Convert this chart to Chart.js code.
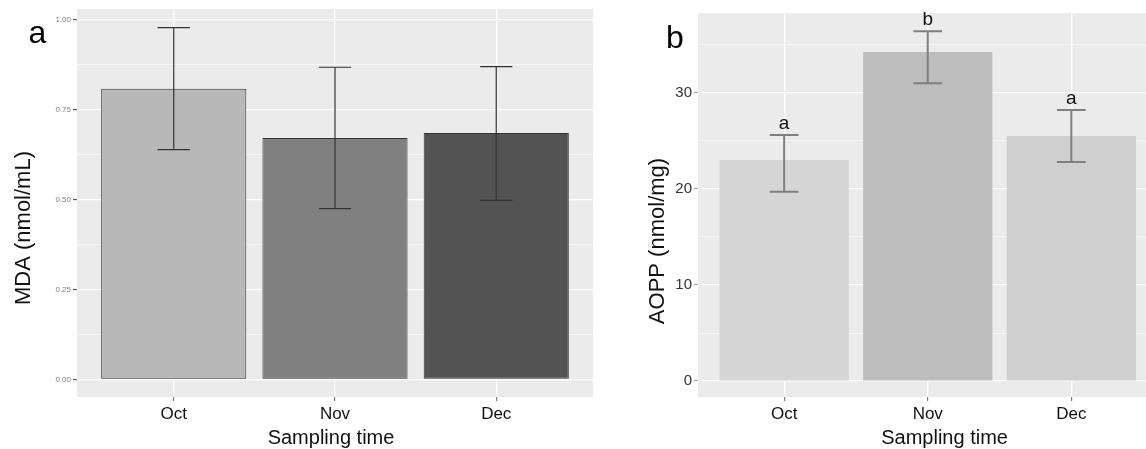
<!DOCTYPE html>
<html>
<head>
<meta charset="utf-8">
<script src="https://cdn.jsdelivr.net/npm/chart.js@4.4.1/dist/chart.umd.min.js"></script>
<style>
  html, body { margin: 0; padding: 0; background: #fff; width: 1146px; height: 449px; overflow: hidden; }
  #wrapA { position: absolute; left: 0; top: 0; width: 600px; height: 449px; }
  #wrapB { position: absolute; left: 600px; top: 0; width: 546px; height: 449px; }
</style>
</head>
<body>
<div id="wrapA"><canvas id="mdaChart"></canvas></div>
<div id="wrapB"><canvas id="aoppChart"></canvas></div>
<script>
// categories
const months = ['Oct', 'Nov', 'Dec'];

// panel a: MDA (nmol/mL), mean and error bar ends
const mdaMean = [0.808, 0.671, 0.685];
const mdaLow = [0.639, 0.475, 0.498];
const mdaHigh = [0.978, 0.868, 0.870];
const mdaTicks = [0, 0.25, 0.5, 0.75, 1.0];

// panel b: AOPP (nmol/mg)
const aoppMean = [23.0, 34.25, 25.5];
const aoppLow = [19.7, 31.0, 22.8];
const aoppHigh = [25.6, 36.4, 28.2];
const aoppLetters = ['a', 'b', 'a'];
const aoppTicks = [0, 10, 20, 30];

const FONT = "'Liberation Sans', Arial, sans-serif";

// major ticks + minor halfway lines (ggplot style grid)
function withMinors(majors, upTo) {
    const step = majors[1] - majors[0];
    const out = [];
    for (let v = majors[0]; v <= upTo + 1e-9; v += step / 2) out.push(+v.toFixed(6));
    return out;
}

function makeChart(id, opt) {
    const isMajor = v => opt.yTicks.some(t => Math.abs(t - v) < 1e-6);

    // grey panel background
    const panelBg = {
        id: 'panelBg',
        beforeDraw(chart) {
            const a = chart.chartArea, c = chart.ctx;
            c.save();
            c.fillStyle = '#EBEBEB';
            c.fillRect(a.left, a.top, a.right - a.left, a.bottom - a.top);
            c.restore();
        }
    };

    // error bars and letters above them
    const errorBars = {
        id: 'errorBars',
        afterDatasetsDraw(chart) {
            const c = chart.ctx, x = chart.scales.x, y = chart.scales.y;
            c.save();
            c.strokeStyle = opt.errColor;
            c.lineWidth = opt.errWidth;
            opt.mean.forEach((m, i) => {
                const cx = x.getPixelForValue(i + 1);
                const half = x.getPixelForValue(i + 1.1) - cx;
                const yl = y.getPixelForValue(opt.low[i]);
                const yh = y.getPixelForValue(opt.high[i]);
                c.beginPath();
                c.moveTo(cx, yl); c.lineTo(cx, yh);
                c.moveTo(cx - half, yl); c.lineTo(cx + half, yl);
                c.moveTo(cx - half, yh); c.lineTo(cx + half, yh);
                c.stroke();
                if (opt.letters) {
                    c.fillStyle = '#111';
                    c.font = '19px ' + FONT;
                    c.textAlign = 'center';
                    c.textBaseline = 'alphabetic';
                    c.fillText(opt.letters[i], cx, yh - 6);
                }
            });
            c.restore();
        }
    };

    // panel letter and axis titles
    const labels = {
        id: 'labels',
        afterDraw(chart) {
            const c = chart.ctx;
            c.save();
            c.fillStyle = '#000';
            c.textAlign = 'center';
            c.textBaseline = 'alphabetic';
            c.font = '32px ' + FONT;
            c.fillText(opt.panel[0], opt.panel[1], opt.panel[2]);
            c.font = '20px ' + FONT;
            c.fillStyle = '#111';
            c.fillText('Sampling time', opt.xTitleX, 444);
            c.translate(opt.yTitle[1], opt.yTitle[2]);
            c.rotate(-Math.PI / 2);
            c.font = '22px ' + FONT;
            c.fillText(opt.yTitle[0], 0, 0);
            c.restore();
        }
    };

    return new Chart(document.getElementById(id), {
        type: 'bar',
        data: {
            datasets: [{
                data: opt.mean.map((v, i) => ({ x: i + 1, y: v })),
                backgroundColor: opt.colors,
                borderColor: opt.border,
                borderWidth: opt.borderWidth,
                borderSkipped: false,
                categoryPercentage: 1,
                barPercentage: 0.9
            }]
        },
        options: {
            responsive: true,
            maintainAspectRatio: false,
            animation: false,
            layout: { padding: opt.padding },
            plugins: { legend: { display: false }, tooltip: { enabled: false } },
            scales: {
                x: {
                    type: 'linear',
                    min: 0.4,
                    max: opt.xMax,
                    offset: false,
                    afterBuildTicks: s => { s.ticks = months.map((m, i) => ({ value: i + 1 })); },
                    afterFit: s => { s.height = 52; },
                    border: { display: false },
                    grid: { offset: false, color: '#FFFFFF', lineWidth: 1.3, tickColor: '#666', tickLength: 4, tickWidth: 1 },
                    ticks: {
                        autoSkip: false, maxRotation: 0, padding: 3,
                        color: '#111', font: { family: FONT, size: 17 },
                        callback: v => months[Math.round(v) - 1]
                    }
                },
                y: {
                    min: opt.yMin,
                    max: opt.yMax,
                    afterBuildTicks: s => { s.ticks = withMinors(opt.yTicks, opt.yMax).map(v => ({ value: v })); },
                    afterFit: s => { s.width = opt.yWidth; },
                    border: { display: false },
                    grid: {
                        color: '#FFFFFF',
                        lineWidth: ctx => isMajor(ctx.tick.value) ? 1.3 : 0.6,
                        tickColor: ctx => isMajor(ctx.tick.value) ? opt.tickMarkColor : 'rgba(0,0,0,0)',
                        tickLength: 4,
                        tickWidth: 1
                    },
                    ticks: {
                        autoSkip: false, padding: 2,
                        color: opt.yLabelColor,
                        font: { family: FONT, size: opt.yLabelSize },
                        callback: v => isMajor(v) ? opt.fmt(v) : ''
                    }
                }
            }
        },
        plugins: [panelBg, errorBars, labels]
    });
}

makeChart('mdaChart', {
    mean: mdaMean, low: mdaLow, high: mdaHigh,
    colors: ['#B8B8B8', '#808080', '#535353'],
    border: '#333333', borderWidth: 1,
    errColor: '#333333', errWidth: 1.2,
    yTicks: mdaTicks, yMin: -0.049, yMax: 1.03,
    fmt: v => v.toFixed(2),
    yLabelSize: 8, yLabelColor: '#808080', tickMarkColor: '#444',
    yWidth: 77, xMax: 3.6,
    padding: { top: 9, right: 7, left: 0, bottom: 0 },
    panel: ['a', 37.5, 43],
    yTitle: ['MDA (nmol/mL)', 30, 228],
    xTitleX: 331
});

makeChart('aoppChart', {
    mean: aoppMean, low: aoppLow, high: aoppHigh, letters: aoppLetters,
    colors: ['#D5D5D5', '#BDBDBD', '#CFCFCF'],
    border: 'rgba(0,0,0,0)', borderWidth: 0,
    errColor: '#7F7F7F', errWidth: 2,
    yTicks: aoppTicks, yMin: -1.65, yMax: 38.3,
    fmt: v => String(v),
    yLabelSize: 15, yLabelColor: '#333', tickMarkColor: '#999',
    yWidth: 98, xMax: 3.52,
    padding: { top: 13, right: 0, left: 0, bottom: 0 },
    panel: ['b', 75, 48],
    yTitle: ['AOPP (nmol/mg)', 64, 241],
    xTitleX: 344.6
});
</script>
</body>
</html>
